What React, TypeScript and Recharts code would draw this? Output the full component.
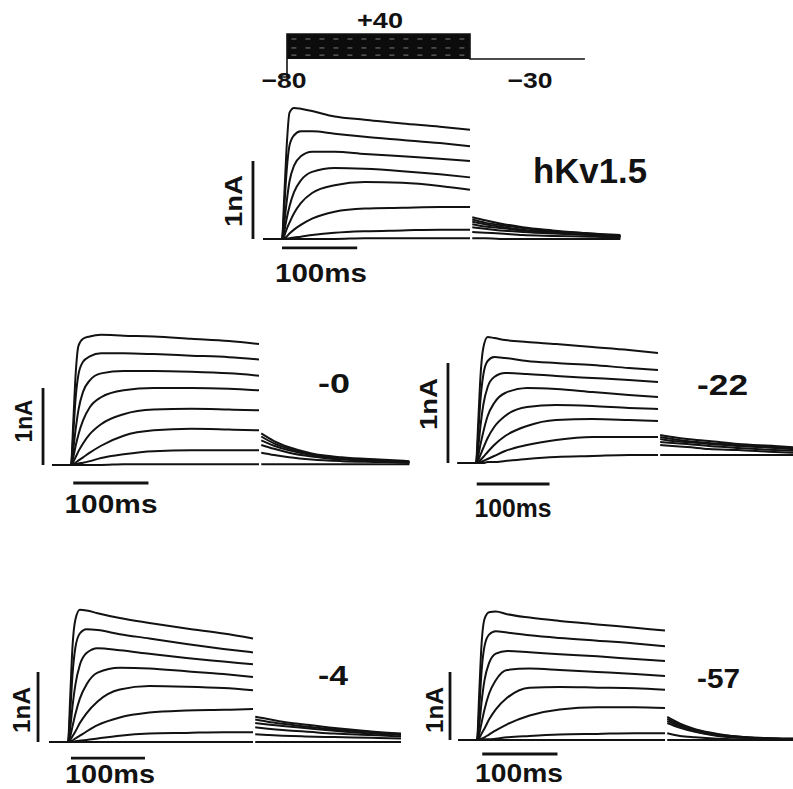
import { Line, LineChart, ReferenceArea, ReferenceLine, XAxis, YAxis } from 'recharts'

// sample times (ms) for the +40 step and for the -30 tail
const PULSE_T = [-25, 0, 3, 6, 10, 16, 25, 40, 70, 110, 160, 210, 250]
const TAIL_T = [253, 270, 290, 320, 360, 410, 450]

// currents in nA
const HKV_PULSE = [
  [0, 0, 0.55, 1.15, 1.62, 1.68, 1.67, 1.64, 1.57, 1.53, 1.48, 1.44, 1.4],
  [0, 0, 0.4, 0.85, 1.2, 1.33, 1.38, 1.38, 1.35, 1.31, 1.27, 1.23, 1.19],
  [0, 0, 0.2, 0.46, 0.74, 0.94, 1.06, 1.12, 1.12, 1.09, 1.06, 1.03, 1.0],
  [0, 0, 0.1, 0.25, 0.42, 0.6, 0.75, 0.86, 0.91, 0.9, 0.87, 0.83, 0.79],
  [0, 0, 0.04, 0.12, 0.21, 0.33, 0.46, 0.59, 0.69, 0.73, 0.72, 0.68, 0.63],
  [0, 0, 0.01, 0.03, 0.07, 0.12, 0.18, 0.26, 0.35, 0.39, 0.4, 0.41, 0.41],
  [0, 0, 0, 0.005, 0.01, 0.02, 0.03, 0.05, 0.08, 0.1, 0.11, 0.12, 0.12],
  [0, 0, 0, 0, 0, 0, 0, 0, 0, 0.01, 0.01, 0.01, 0.01],
]
const HKV_TAIL = [
  [0.28, 0.24, 0.2, 0.15, 0.11, 0.07, 0.05],
  [0.25, 0.21, 0.18, 0.14, 0.1, 0.07, 0.04],
  [0.22, 0.19, 0.16, 0.12, 0.09, 0.06, 0.04],
  [0.19, 0.16, 0.14, 0.11, 0.08, 0.05, 0.03],
  [0.15, 0.13, 0.11, 0.09, 0.07, 0.05, 0.03],
  [0.09, 0.08, 0.07, 0.05, 0.04, 0.03, 0.02],
  [0.01, 0.01, 0, 0, 0, 0, 0],
]

const P0_PULSE = [
  [0, 0, 0.55, 1.15, 1.55, 1.64, 1.67, 1.69, 1.68, 1.67, 1.64, 1.61, 1.57],
  [0, 0, 0.4, 0.85, 1.18, 1.34, 1.41, 1.45, 1.45, 1.44, 1.42, 1.4, 1.37],
  [0, 0, 0.2, 0.45, 0.72, 0.95, 1.1, 1.19, 1.22, 1.22, 1.21, 1.19, 1.16],
  [0, 0, 0.1, 0.24, 0.4, 0.58, 0.75, 0.88, 0.97, 1.0, 1.0, 0.99, 0.97],
  [0, 0, 0.04, 0.1, 0.18, 0.28, 0.4, 0.53, 0.66, 0.72, 0.73, 0.72, 0.71],
  [0, 0, 0.01, 0.03, 0.06, 0.1, 0.16, 0.25, 0.38, 0.45, 0.47, 0.46, 0.45],
  [0, 0, 0, 0.01, 0.02, 0.03, 0.05, 0.09, 0.14, 0.18, 0.19, 0.19, 0.19],
  [0, 0, 0, 0, 0, 0, 0, 0, 0.01, 0.01, 0.01, 0.01, 0.01],
]
const P0_TAIL = [
  [0.41, 0.31, 0.23, 0.15, 0.1, 0.07, 0.05],
  [0.37, 0.28, 0.21, 0.14, 0.09, 0.06, 0.04],
  [0.32, 0.25, 0.19, 0.13, 0.08, 0.06, 0.04],
  [0.26, 0.21, 0.16, 0.11, 0.07, 0.05, 0.03],
  [0.16, 0.13, 0.1, 0.07, 0.05, 0.04, 0.03],
  [0.01, 0.01, 0.01, 0.01, 0.01, 0.01, 0.01],
]

const P22_PULSE = [
  [0, 0, 0.4, 0.85, 1.15, 1.26, 1.25, 1.23, 1.21, 1.19, 1.16, 1.13, 1.1],
  [0, 0, 0.28, 0.62, 0.88, 1.02, 1.06, 1.05, 1.02, 1.0, 0.98, 0.95, 0.93],
  [0, 0, 0.15, 0.36, 0.58, 0.76, 0.86, 0.9, 0.89, 0.87, 0.85, 0.83, 0.81],
  [0, 0, 0.07, 0.18, 0.31, 0.47, 0.6, 0.7, 0.75, 0.74, 0.71, 0.68, 0.66],
  [0, 0, 0.03, 0.08, 0.15, 0.25, 0.36, 0.47, 0.56, 0.58, 0.57, 0.55, 0.54],
  [0, 0, 0.01, 0.03, 0.06, 0.11, 0.18, 0.27, 0.37, 0.43, 0.44, 0.43, 0.42],
  [0, 0, 0, 0.01, 0.02, 0.04, 0.07, 0.12, 0.18, 0.23, 0.26, 0.26, 0.26],
  [0, 0, 0, 0, 0, 0.01, 0.01, 0.02, 0.04, 0.06, 0.07, 0.08, 0.08],
]
const P22_TAIL = [
  [0.28, 0.26, 0.24, 0.22, 0.19, 0.17, 0.15],
  [0.26, 0.24, 0.22, 0.2, 0.18, 0.16, 0.14],
  [0.24, 0.22, 0.21, 0.19, 0.17, 0.15, 0.13],
  [0.21, 0.2, 0.19, 0.17, 0.15, 0.13, 0.12],
  [0.18, 0.17, 0.16, 0.14, 0.13, 0.11, 0.1],
  [0.08, 0.08, 0.08, 0.08, 0.08, 0.08, 0.08],
]

const P4_PULSE = [
  [0, 0, 0.65, 1.35, 1.75, 1.89, 1.88, 1.84, 1.77, 1.7, 1.62, 1.55, 1.48],
  [0, 0, 0.42, 0.95, 1.35, 1.55, 1.61, 1.6, 1.54, 1.48, 1.4, 1.33, 1.28],
  [0, 0, 0.2, 0.5, 0.82, 1.1, 1.27, 1.34, 1.31, 1.26, 1.2, 1.15, 1.11],
  [0, 0, 0.08, 0.22, 0.4, 0.62, 0.82, 0.99, 1.06, 1.05, 1.01, 0.97, 0.93],
  [0, 0, 0.03, 0.08, 0.15, 0.27, 0.41, 0.58, 0.75, 0.8, 0.79, 0.77, 0.74],
  [0, 0, 0.01, 0.02, 0.05, 0.09, 0.15, 0.24, 0.35, 0.42, 0.45, 0.46, 0.47],
  [0, 0, 0, 0, 0.01, 0.02, 0.03, 0.05, 0.09, 0.12, 0.13, 0.14, 0.14],
  [0, 0, 0, 0, 0, 0, 0, 0, 0, 0, 0, 0, 0],
]
const P4_TAIL = [
  [0.36, 0.33, 0.29, 0.25, 0.2, 0.15, 0.12],
  [0.32, 0.29, 0.26, 0.22, 0.18, 0.14, 0.11],
  [0.27, 0.25, 0.23, 0.2, 0.16, 0.12, 0.1],
  [0.21, 0.19, 0.17, 0.15, 0.12, 0.1, 0.08],
  [0.11, 0.1, 0.09, 0.08, 0.07, 0.06, 0.05],
  [0, 0, 0, 0, 0, 0, 0],
]

const P57_PULSE = [
  [0, 0, 0.7, 1.4, 1.78, 1.88, 1.89, 1.85, 1.8, 1.75, 1.7, 1.65, 1.61],
  [0, 0, 0.45, 1.0, 1.38, 1.55, 1.6, 1.58, 1.54, 1.5, 1.46, 1.42, 1.38],
  [0, 0, 0.22, 0.55, 0.88, 1.13, 1.27, 1.31, 1.29, 1.26, 1.23, 1.19, 1.16],
  [0, 0, 0.09, 0.25, 0.45, 0.68, 0.88, 1.03, 1.05, 1.03, 1.0, 0.97, 0.94],
  [0, 0, 0.03, 0.09, 0.17, 0.3, 0.45, 0.62, 0.77, 0.78, 0.77, 0.76, 0.74],
  [0, 0, 0.01, 0.02, 0.04, 0.08, 0.14, 0.23, 0.36, 0.45, 0.48, 0.48, 0.47],
  [0, 0, 0, 0, 0.01, 0.01, 0.02, 0.04, 0.06, 0.08, 0.09, 0.1, 0.1],
  [0, 0, 0, 0, 0, 0, 0, 0, 0, 0, 0, 0, 0],
]
const P57_TAIL = [
  [0.34, 0.24, 0.16, 0.09, 0.04, 0.02, 0.01],
  [0.31, 0.22, 0.15, 0.08, 0.04, 0.02, 0.01],
  [0.28, 0.2, 0.13, 0.07, 0.03, 0.02, 0.01],
  [0.25, 0.18, 0.12, 0.06, 0.03, 0.01, 0.01],
  [0.1, 0.06, 0.04, 0.02, 0.01, 0.01, 0],
  [0, 0, 0, 0, 0, 0, 0],
]

// voltage protocol (ms, mV)
const PROTOCOL_T = [-12, 0, 0, 250, 250, 407]
const PROTOCOL_MV = [-80, -80, 40, 40, -30, -30]
const STEP_STREAKS = [26, 1, -19]

const INK = '#121212'
const FONT = '"Liberation Sans", Arial, Helvetica, sans-serif'

type Panel = {
  id: string
  pulse: number[][]
  tail: number[][]
  left: number
  top: number
  width: number
  height: number
  x0: number
  pxPerMs: number
  baseline: number
  pxPerNA: number
  barT: number
  barY: number
  barStart: number
}

const PANELS: Panel[] = [
  { id: 'hkv', pulse: HKV_PULSE, tail: HKV_TAIL, left: 240, top: 95, width: 400, height: 165, x0: 282, pxPerMs: 0.752, baseline: 239, pxPerNA: 78, barT: -38.6, barY: -0.115, barStart: 0 },
  { id: 'p0', pulse: P0_PULSE, tail: P0_TAIL, left: 30, top: 325, width: 390, height: 165, x0: 71, pxPerMs: 0.752, baseline: 465, pxPerNA: 77, barT: -37.2, barY: -0.234, barStart: 3 },
  { id: 'p22', pulse: P22_PULSE, tail: P22_TAIL, left: 435, top: 325, width: 358, height: 165, x0: 476, pxPerMs: 0.728, baseline: 463, pxPerNA: 100, barT: -38.5, barY: -0.21, barStart: 1 },
  { id: 'p4', pulse: P4_PULSE, tail: P4_TAIL, left: 25, top: 600, width: 390, height: 189, x0: 68, pxPerMs: 0.74, baseline: 742, pxPerNA: 70, barT: -40.5, barY: -0.229, barStart: 4 },
  { id: 'p57', pulse: P57_PULSE, tail: P57_TAIL, left: 435, top: 600, width: 358, height: 189, x0: 477, pxPerMs: 0.752, baseline: 740, pxPerNA: 68, barT: -35.9, barY: -0.206, barStart: 7 },
]

type TextItem = { text: string; x: number; y: number; size: number; len?: number; anchor?: 'start' | 'middle' | 'end'; rotate?: boolean }

const TEXTS: TextItem[] = [
  { text: '+40', x: 380, y: 28, size: 22, len: 46, anchor: 'middle' },
  { text: '−80', x: 284, y: 88, size: 22, len: 45, anchor: 'middle' },
  { text: '−30', x: 530, y: 88, size: 22, len: 45, anchor: 'middle' },
  { text: 'hKv1.5', x: 533, y: 183, size: 35, len: 114 },
  { text: '-0', x: 318, y: 393, size: 28, len: 32 },
  { text: '-22', x: 697, y: 395, size: 30, len: 51 },
  { text: '-4', x: 318, y: 685, size: 28, len: 30 },
  { text: '-57', x: 697, y: 688, size: 28, len: 43 },
  { text: '1nA', x: 242, y: 201, size: 24, len: 52, anchor: 'middle', rotate: true },
  { text: '1nA', x: 32, y: 421, size: 24, len: 43, anchor: 'middle', rotate: true },
  { text: '1nA', x: 437, y: 404, size: 24, len: 52, anchor: 'middle', rotate: true },
  { text: '1nA', x: 30, y: 710, size: 24, len: 46, anchor: 'middle', rotate: true },
  { text: '1nA', x: 443, y: 710, size: 24, len: 46, anchor: 'middle', rotate: true },
  { text: '100ms', x: 321, y: 282, size: 26, len: 92, anchor: 'middle' },
  { text: '100ms', x: 111, y: 513, size: 26, len: 93, anchor: 'middle' },
  { text: '100ms', x: 513, y: 517, size: 26, len: 77, anchor: 'middle' },
  { text: '100ms', x: 110, y: 783, size: 25, len: 90, anchor: 'middle' },
  { text: '100ms', x: 519, y: 782, size: 25, len: 88, anchor: 'middle' },
]

const toPoints = (times: number[], values: number[]) => times.map((t, i) => ({ t, v: values[i] }))

function TracePanel({ p }: { p: Panel }) {
  const tMin = (p.left - p.x0) / p.pxPerMs
  const tMax = (p.left + p.width - p.x0) / p.pxPerMs
  const yMax = (p.baseline - p.top) / p.pxPerNA
  const yMin = (p.baseline - p.top - p.height) / p.pxPerNA

  return (
    <div style={{ position: 'absolute', left: p.left, top: p.top }}>
      <LineChart width={p.width} height={p.height} margin={{ top: 0, right: 0, bottom: 0, left: 0 }}>
        <XAxis dataKey="t" type="number" domain={[tMin, tMax]} allowDataOverflow hide />
        <YAxis type="number" domain={[yMin, yMax]} allowDataOverflow hide />
        {p.pulse.map((vals, i) => (
          <Line
            key={`${p.id}-p${i}`}
            data={toPoints(PULSE_T, vals)}
            dataKey="v"
            type="monotone"
            stroke={INK}
            strokeWidth={2}
            dot={false}
            activeDot={false}
            isAnimationActive={false}
          />
        ))}
        {p.tail.map((vals, i) => (
          <Line
            key={`${p.id}-t${i}`}
            data={toPoints(TAIL_T, vals)}
            dataKey="v"
            type="monotone"
            stroke={INK}
            strokeWidth={2}
            dot={false}
            activeDot={false}
            isAnimationActive={false}
          />
        ))}
        <ReferenceLine segment={[{ x: p.barT, y: 0 }, { x: p.barT, y: 1 }]} stroke={INK} strokeWidth={2.8} />
        <ReferenceLine
          segment={[{ x: p.barStart, y: p.barY }, { x: p.barStart + 100, y: p.barY }]}
          stroke={INK}
          strokeWidth={2.8}
        />
      </LineChart>
    </div>
  )
}

function Protocol() {
  const left = 270
  const top = 5
  const width = 330
  const height = 85
  const x0 = 287
  const pxPerMs = 0.732
  const pxPerMv = 0.358
  const tMin = (left - x0) / pxPerMs
  const tMax = (left + width - x0) / pxPerMs
  const yMax = 40 + (34 - top) / pxPerMv
  const yMin = 40 - (top + height - 34) / pxPerMv

  return (
    <div style={{ position: 'absolute', left, top }}>
      <LineChart width={width} height={height} margin={{ top: 0, right: 0, bottom: 0, left: 0 }}>
        <XAxis dataKey="t" type="number" domain={[tMin, tMax]} allowDataOverflow hide />
        <YAxis type="number" domain={[yMin, yMax]} allowDataOverflow hide />
        <ReferenceArea x1={0} x2={250} y1={-30} y2={40} fill="#0c0c0c" fillOpacity={1} stroke="none" />
        {STEP_STREAKS.map((mv) => (
          <ReferenceLine
            key={mv}
            segment={[{ x: 6, y: mv }, { x: 244, y: mv }]}
            stroke="#9a9a9a"
            strokeWidth={0.8}
            strokeDasharray="5 9"
          />
        ))}
        <Line
          data={PROTOCOL_T.map((t, i) => ({ t, v: PROTOCOL_MV[i] }))}
          dataKey="v"
          type="linear"
          stroke={INK}
          strokeWidth={1.6}
          dot={false}
          activeDot={false}
          isAnimationActive={false}
        />
      </LineChart>
    </div>
  )
}

export default function App() {
  return (
    <div
      style={{
        position: 'absolute',
        left: 0,
        top: 0,
        width: 793,
        height: 789,
        overflow: 'hidden',
        background: '#fff',
      }}
    >
      <Protocol />
      {PANELS.map((p) => (
        <TracePanel key={p.id} p={p} />
      ))}
      <svg width={793} height={789} style={{ position: 'absolute', left: 0, top: 0, pointerEvents: 'none' }}>
        {TEXTS.map((item, i) => (
          <text
            key={i}
            x={item.rotate ? 0 : item.x}
            y={item.rotate ? 0 : item.y}
            transform={item.rotate ? `translate(${item.x},${item.y}) rotate(-90)` : undefined}
            textAnchor={item.anchor ?? 'start'}
            fontFamily={FONT}
            fontWeight="bold"
            fontSize={item.size}
            fill={INK}
            textLength={item.len}
            lengthAdjust="spacingAndGlyphs"
          >
            {item.text}
          </text>
        ))}
      </svg>
    </div>
  )
}
